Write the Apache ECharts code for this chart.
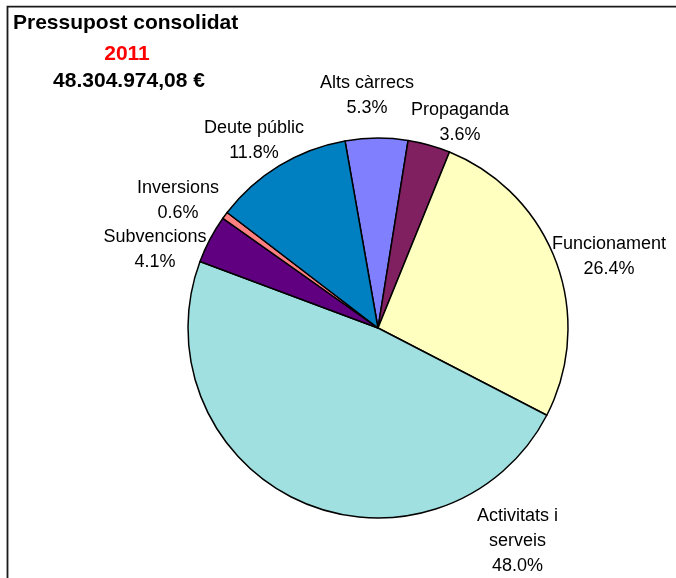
<!DOCTYPE html>
<html>
<head>
<meta charset="utf-8">
<script src="https://cdn.jsdelivr.net/npm/echarts@6/dist/echarts.min.js"></script>
<style>
html,body{margin:0;padding:0;background:#fff;}
#chart{width:676px;height:578px;}
</style>
</head>
<body>
<div id="chart"></div>
<script>
// Data (clockwise from the top)
var categories = ['Alts càrrecs', 'Propaganda', 'Funcionament', 'Activitats i\nserveis', 'Subvencions', 'Inversions', 'Deute públic'];
var values = [5.3, 3.6, 26.4, 48.0, 4.1, 0.6, 11.8];
var colors = ['#8080FF', '#802060', '#FFFFC0', '#A0E0E0', '#600080', '#FF8080', '#0080C0'];
var titleText = 'Pressupost consolidat';
var yearText = '2011';
var totalText = '48.304.974,08 €';

// Label centres (manually placed as in the original)
var labelCenters = [[367, 95.5], [460, 123], [609, 257], [517.5, 541], [155, 250], [178, 200.5], [254, 140.5]];

var chart = echarts.init(document.getElementById('chart'), null, {renderer: 'canvas'});
var data = categories.map(function (c, i) {
  return {name: c, value: values[i], itemStyle: {color: colors[i]}};
});

chart.setOption({
  animation: false,
  backgroundColor: '#ffffff',
  graphic: [
    {type: 'rect', shape: {x: 7.5, y: 6.7, width: 720, height: 620}, style: {fill: 'none', stroke: '#1a1a1a', lineWidth: 1.8}, silent: true},
    {type: 'text', left: 13, top: 13, style: {text: titleText, font: 'bold 21px "Liberation Sans", Arial, sans-serif', fill: '#000'}},
    {type: 'text', x: 127, y: 54.5, style: {text: yearText, font: 'bold 21px "Liberation Sans", Arial, sans-serif', fill: '#FF0000', align: 'center', verticalAlign: 'middle'}},
    {type: 'text', x: 129, y: 81.5, style: {text: totalText, font: 'bold 21px "Liberation Sans", Arial, sans-serif', fill: '#000', align: 'center', verticalAlign: 'middle'}}
  ],
  series: [{
    type: 'pie',
    center: [378, 328],
    radius: 190,
    startAngle: 100,
    clockwise: true,
    avoidLabelOverlap: false,
    data: data,
    itemStyle: {borderColor: '#000', borderWidth: 1.5},
    emphasis: {disabled: true},
    label: {
      show: true,
      position: 'outside',
      formatter: function (p) { return p.name + '\n' + p.value.toFixed(1) + '%'; },
      fontFamily: '"Liberation Sans", Arial, sans-serif',
      fontSize: 18,
      lineHeight: 25,
      color: '#000',
      align: 'center'
    },
    labelLine: {show: false},
    labelLayout: function (params) {
      var c = labelCenters[params.dataIndex];
      return {x: c[0], y: c[1], align: 'center', verticalAlign: 'middle'};
    }
  }]
});
</script>
</body>
</html>
